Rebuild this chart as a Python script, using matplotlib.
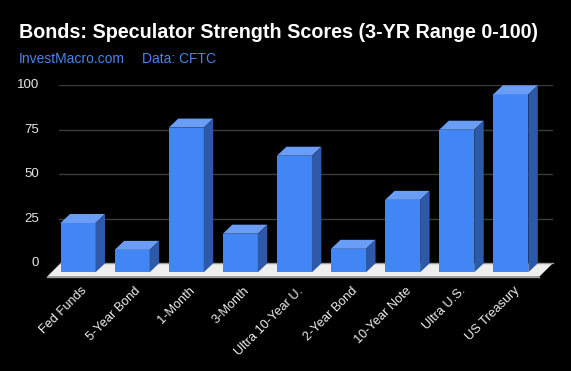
import matplotlib
matplotlib.use("Agg")
import matplotlib.pyplot as plt
from matplotlib.patches import Polygon

# data
categories = ["Fed Funds", "5-Year Bond", "1-Month", "3-Month", "Ultra 10-Year U.",
              "2-Year Bond", "10-Year Note", "Ultra U.S.", "US Treasury"]
scores = [27.7, 12.6, 81.3, 21.7, 65.5, 13.2, 40.7, 80.1, 100.0]
yticks = [0, 25, 50, 75, 100]

W, H = 571, 371
plt.rcParams['font.family'] = ['Liberation Sans', 'DejaVu Sans']

fig = plt.figure(figsize=(W / 100, H / 100), dpi=100, facecolor='black')

# axes placed in pixels: gridlines span x 59..553, y(0)=263.3, y(100)=85.3
left_px, right_px = 59, 553
y0_px, y100_px = 263.3, 85.3
ax = fig.add_axes([left_px / W, (H - y0_px) / H,
                   (right_px - left_px) / W, (y0_px - y100_px) / H])
ax.set_facecolor('black')
ax.set_xlim(-0.527, 8.604)
ax.set_ylim(0, 100)
for s in ax.spines.values():
    s.set_visible(False)
ax.set_xticks([])
ax.set_yticks([])

px_x = (right_px - left_px) / (8.604 + 0.527)   # pixels per category
px_y = (y0_px - y100_px) / 100.0                # pixels per unit

# depth of bars and floor (pixels -> data)
DX, DY = 9.5 / px_x, 9 / px_y
FX, FY = 13.5 / px_x, 13.4 / px_y
BW = 35 / px_x

# gridlines + tick labels
for t in yticks[1:]:
    ax.axhline(t, color='#3c3c3c', lw=1, zorder=0)
for t in yticks:
    ax.text(-0.527 - 20 / px_x, t, str(t), color='#e8e8e8', fontsize=9.5,
            ha='right', va='center', clip_on=False)

# floor
fl, fr = -0.5, 8.6
floor = Polygon([(fl, 0), (fr, 0), (fr - FX, -FY), (fl - FX, -FY)],
                closed=True, facecolor='#eeeeee', edgecolor='none', zorder=1, clip_on=False)
ax.add_patch(floor)
ax.plot([fl, fr], [0, 0], color='#999999', lw=1, zorder=1.5, clip_on=False)
ax.plot([fl - FX, fr - FX], [-FY, -FY], color='#9a9a9a', lw=1, zorder=1.5, clip_on=False)

# bars: front faces, then tops and sides
xs = list(range(len(categories)))
bars = ax.bar([x - DX for x in xs], scores, width=BW, bottom=-DY,
              color='#4285f4', zorder=3, clip_on=False)
for x, v in zip(xs, scores):
    xl, xr = x - BW / 2, x + BW / 2
    top = Polygon([(xl - DX, v - DY), (xr - DX, v - DY), (xr, v), (xl, v)],
                  closed=True, facecolor='#6a9df6', edgecolor='none', zorder=3, clip_on=False)
    side = Polygon([(xr - DX, -DY), (xr, 0), (xr, v), (xr - DX, v - DY)],
                   closed=True, facecolor='#2d59a8', edgecolor='none', zorder=3, clip_on=False)
    ax.add_patch(top)
    ax.add_patch(side)

# category labels
for x, name in zip(xs, categories):
    ax.text(x - DX + 7 / px_x, -(289 - y0_px) / px_y, name, color='#eeeeee',
            fontsize=9.2, rotation=45, rotation_mode='anchor', ha='right', va='center',
            clip_on=False)

fig.text(19 / W, 1 - 37.7 / H, "Bonds: Speculator Strength Scores (3-YR Range 0-100)",
         color='white', fontsize=14.25, fontweight='bold', va='baseline')
fig.text(19 / W, 1 - 63.3 / H, "InvestMacro.com", color='#4a86e8', fontsize=10, va='baseline')
fig.text(141.7 / W, 1 - 63.3 / H, "Data: CFTC", color='#4a86e8', fontsize=10, va='baseline')

fig.savefig('out.png', dpi=100, facecolor='black')
